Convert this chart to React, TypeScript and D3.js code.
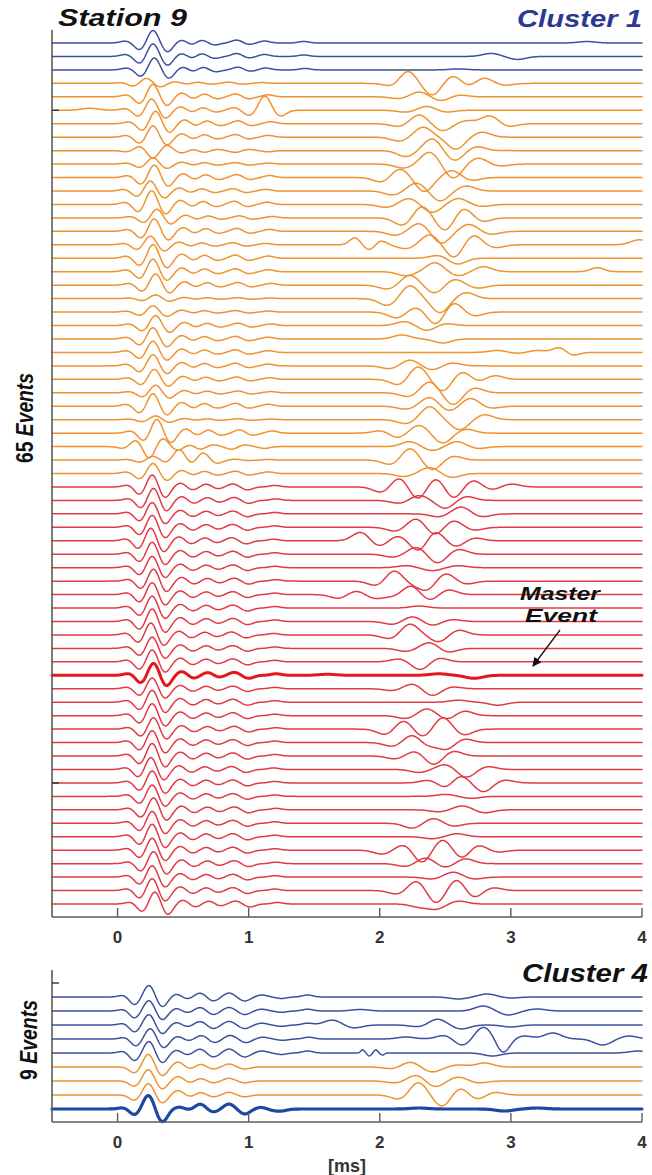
import React from "react";
import * as d3 from "d3";

// [time (ms), amplitude (px), optional width (ms)] turning points
type Pt = number[];

const xTicks = [0, 1, 2, 3, 4];
const topYTicks = [5, 55];
const bottomYTicks = [-1];

const topGroupNames = ["blue", "orange", "red"];
const topGroupSizes = [3, 30, 32];
const topMasterIndex = 47;

const bottomGroups = ["blue", "blue", "blue", "blue", "blue", "orange", "orange", "orange", "blueBold"];

// direct arrival + coda shapes
const pulseBlue: Pt[] = [[0.06, 2], [0.17, -7], [0.27, 13], [0.38, -9], [0.49, 3], [0.57, -2], [0.64, 3], [0.74, -2], [0.91, 3], [1.0, -1.5], [1.12, 2], [1.42, 1.5]];
const pulseOrange: Pt[] = [[0.07, 2], [0.17, -7], [0.27, 13], [0.375, -9], [0.49, 4], [0.58, -2], [0.66, 3], [0.76, -2], [0.9, 3], [1.0, -2], [1.15, 2]];
const pulseRed: Pt[] = [[0.08, 2], [0.17, -8], [0.265, 13], [0.36, -11], [0.48, 4], [0.57, -3], [0.68, 3], [0.76, -2], [0.88, 3], [0.99, -3], [1.2, 1.5]];
const pulseBlue4: Pt[] = [[0.05, 2], [0.13, -8], [0.24, 12], [0.34, -10], [0.45, 3], [0.53, -2], [0.63, 4], [0.73, -4], [0.85, 4], [0.97, -4], [1.1, 2], [1.25, -1.5], [1.45, 2]];
const pulseOrange4: Pt[] = [[0.13, -6], [0.235, 13], [0.34, -9], [0.46, 5], [0.56, -2], [0.63, 3], [0.73, -2], [0.85, 3], [0.97, -2]];
const pulseBold4: Pt[] = [[0.05, 1.5], [0.13, -6], [0.235, 14], [0.34, -13], [0.47, 2], [0.55, -1], [0.63, 5], [0.73, -3], [0.85, 5], [0.97, -5], [1.1, 2], [1.25, -1]];

const topPulseShift = [
  0, 0, 0.01,
  -0.05, 0, -0.01, 0.02, 0, 0, 0, 0.01, -0.02, -0.01, 0.03, 0.01, -0.02, 0, 0,
  0.02, 0.02, 0, 0.02, 0, 0, 0, 0.01, 0.02, 0, 0.02, 0.03, -0.03, 0, 0,
  0, 0.01, 0, 0, -0.01, 0, 0, 0.01, 0, 0, 0, -0.01, 0, 0, 0.01, 0,
  0, 0, 0.01, 0, 0, -0.01, 0, 0, 0.01, 0, 0, 0, 0.01, 0, 0, 0.02,
];
const topPulseGain = [
  1, 1, 0.95,
  0.4, 1, 0.9, 1, 0.9, -0.6, 0.5, 1, 0.8, 1.1, 0.7, 1, 0.7, 1.1, 1,
  0.9, 0.3, 0.5, 0.8, 0.9, 0.9, 0.9, 0.8, 0.6, 1, 0.3, 1.1, -0.9, 0.3, 0.8,
  1, 1, 0.95, 1, 1.05, 1, 0.95, 1, 1, 1, 1.05, 1, 0.95, 1, 1, 0.9,
  1, 1, 0.95, 1, 1.05, 1, 1, 0.95, 1, 1, 1.05, 1, 1, 0.95, 1, 1,
];
const topLate: Pt[][] = [
  [[3.58, 1.5]],
  [[2.85, 3], [3.05, -3]],
  [[2.6, 1]],
  [[2.11, -4], [2.21, 13], [2.4, -12], [2.56, 8], [2.68, -4], [2.79, 6], [2.95, -2]],
  [[2.15, -2], [2.3, 5], [2.47, -4], [2.6, 2]],
  [[-0.21, 2], [1.02, -4, 0.045], [1.12, 13, 0.045], [1.24, -6, 0.045], [2.2, -2], [2.36, 4], [2.5, -2]],
  [[2.15, -3], [2.3, 9], [2.48, -7], [2.66, 3], [2.84, 8], [2.98, -3]],
  [[2.15, -4], [2.33, 10], [2.58, -12], [2.78, 5]],
  [[2.2, -6], [2.4, 12], [2.57, -10], [2.74, 4]],
  [[2.18, -4], [2.38, 12], [2.56, -14], [2.75, 6], [2.92, -2]],
  [[2.02, -5], [2.15, 9], [2.34, -14], [2.55, 7], [2.7, -3]],
  [[2.1, -4], [2.28, 8], [2.46, -10], [2.66, 5]],
  [[2.05, -3], [2.22, 6], [2.4, -8], [2.6, 6], [2.78, -2]],
  [[2.18, -8], [2.32, 12], [2.5, -13], [2.64, 10], [2.78, -4]],
  [[2.12, -4], [2.3, 8], [2.47, -12], [2.68, 7], [2.85, -3]],
  [[1.81, 7, 0.04], [1.92, -5, 0.04], [2.01, 4, 0.04], [2.2, -4], [2.38, 10], [2.57, -13], [2.71, 10], [2.88, -3], [3.98, 5]],
  [[2.45, 3], [2.59, -6]],
  [[2.2, -4], [2.42, 9], [2.6, -4], [2.79, 5], [3.66, 4, 0.05]],
  [[2.06, -4], [2.23, 10], [2.42, -8], [2.57, 6], [2.75, -3]],
  [[2.06, -7], [2.23, 13], [2.46, -14], [2.66, 6]],
  [[2.13, -6], [2.28, 5], [2.43, -13], [2.56, 10], [2.72, -4]],
  [[2.19, 4], [2.36, -5], [2.5, 2]],
  [[2.17, 4], [2.48, -4]],
  [[2.9, 2], [3.05, -1], [3.2, 2], [3.37, 5, 0.05], [3.47, -3, 0.05]],
  [[2.08, -3], [2.23, 6], [2.4, -4], [2.55, 3]],
  [[2.15, -6], [2.29, 13], [2.48, -12], [2.63, 8], [2.75, -3], [2.87, 4]],
  [[2.22, -4], [2.38, 11], [2.56, -12], [2.72, 5]],
  [[2.2, -3], [2.38, 9], [2.53, -5], [2.69, 8], [2.85, -2]],
  [[2.2, -4], [2.38, 13], [2.61, -10], [2.8, 5]],
  [[2.02, 3], [2.13, -5], [2.3, 8], [2.48, -10], [2.66, 4]],
  [[2.23, 5], [2.4, -4], [2.59, 5], [2.75, -2]],
  [[0.47, 10, 0.045], [0.56, -4, 0.045], [0.65, 7, 0.045], [0.75, -3, 0.045], [2.09, -5], [2.23, 12], [2.4, -10], [2.56, 4]],
  [[2.18, -3], [2.38, 6], [2.55, -4]],
  [[2.02, -6], [2.15, 10], [2.29, -13], [2.43, 10], [2.56, -12], [2.71, 7], [2.85, -3], [3.0, 3]],
  [[2.15, -3], [2.3, 5], [2.5, -8], [2.66, 4]],
  [[2.45, -3], [2.62, 7], [2.78, -3]],
  [[2.12, -4], [2.28, 9], [2.42, -8], [2.56, 7], [2.72, -3]],
  [[1.86, 9], [1.99, -6], [2.14, 5], [2.3, -11], [2.42, 10], [2.58, -6], [2.72, 3]],
  [[2.1, -3], [2.28, 7], [2.44, -9], [2.6, 5]],
  [[2.2, 2], [2.4, -3], [2.6, 2]],
  [[1.98, -5], [2.11, 11], [2.24, -3], [2.36, -9], [2.5, 8], [2.66, -3]],
  [[1.69, -4], [1.82, 4], [1.96, -4], [2.1, -2], [2.24, 9], [2.38, -6], [2.52, 5]],
  [[2.3, 2]],
  [[2.1, -3], [2.25, 5], [2.4, -4], [2.55, 2]],
  [[2.08, -4], [2.23, 11], [2.45, -7], [2.6, 5]],
  [[2.2, -3], [2.38, 6], [2.52, -4]],
  [[2.15, 3], [2.31, -8], [2.45, 4]],
  [[1.6, 1], [2.45, 1.5], [2.72, -3]],
  [[2.1, -2], [2.25, 5], [2.4, -7], [2.55, 2]],
  [[2.6, 2], [2.9, -3]],
  [[2.2, -3], [2.36, 7], [2.52, -4], [2.64, 5]],
  [[2.05, -6], [2.18, 9], [2.33, -8], [2.48, 12], [2.64, -6]],
  [[2.1, -4], [2.25, 8], [2.36, -4], [2.51, -7], [2.64, 4]],
  [[2.12, -3], [2.27, 5], [2.41, -9], [2.56, 5]],
  [[2.3, -3], [2.5, 5], [2.66, -8], [2.82, 3]],
  [[2.38, 3], [2.51, -6], [2.61, 8], [2.79, -9], [2.95, 3]],
  [[2.5, 2], [2.7, -2]],
  [[2.45, -2], [2.63, 4], [2.8, -3]],
  [[2.25, -5], [2.41, 5], [2.56, -3]],
  [[2.4, -2], [2.59, 3]],
  [[2.02, -4], [2.19, 6], [2.32, -13], [2.48, 11], [2.63, -9], [2.74, 6], [2.9, -2]],
  [[2.2, -3], [2.35, 6], [2.5, -4], [2.65, 5]],
  [[2.4, -2], [2.56, 5], [2.72, -2]],
  [[2.14, -4], [2.28, 10], [2.43, -13], [2.59, 12], [2.71, -8], [2.86, 3]],
  [[2.3, -3], [2.43, -5], [2.6, 3]],
];

const bottomPulseShift = [0, 0, 0, 0.01, 0, 0, 0, 0, 0];
const bottomPulseGain = [1, 0.9, 0.9, 0.9, 1, 1, 0.9, 0.9, 1];
const bottomLate: Pt[][] = [
  [[2.6, -2], [2.82, 3], [3.0, -1]],
  [[1.85, 1.5], [2.79, 5], [2.98, -4], [3.2, 2]],
  [[1.64, 5], [1.8, -3], [2.3, -2], [2.44, 6], [2.62, -4], [3.0, -2]],
  [[2.2, 2], [2.5, 4], [2.63, -7], [2.79, 12], [2.94, -14, 0.05], [3.1, 3], [3.32, 6], [3.7, -6], [3.9, 3]],
  [[1.87, 3, 0.015], [1.92, -3, 0.015], [1.97, 3, 0.015], [2.02, -2, 0.015], [2.86, -3], [3.97, 2]],
  [[2.1, -2], [2.23, 5], [2.4, -5], [2.6, 2], [2.8, 4]],
  [[2.12, -2], [2.28, 6], [2.42, -6], [2.6, 4], [2.75, -2]],
  [[2.16, -5], [2.29, 13], [2.48, -12], [2.61, 8], [2.74, -5], [2.87, 3]],
  [[1.2, -1.5], [2.3, 1], [2.95, -2], [3.2, 1]],
];

const colors: Record<string, string> = {
  blue: "#3d4f9f",
  orange: "#f0922e",
  red: "#e23a42",
  master: "#e5161c",
  blueBold: "#1c49a5",
};
const pulseFor: Record<string, Pt[]> = { blue: pulseBlue, orange: pulseOrange, red: pulseRed };
const pulseFor4: Record<string, Pt[]> = { blue: pulseBlue4, orange: pulseOrange4, blueBold: pulseBold4 };

const W = 652;
const H = 1175;
const font = "'Liberation Sans', Arial, sans-serif";

const x = d3.scaleLinear().domain([-0.5, 4]).range([52, 642]);
const yTop = d3.scaleLinear().domain([0, 64]).range([43, 904]);
const yBot = d3.scaleLinear().domain([0, 8]).range([997, 1109]);
const amp = d3.scaleLinear().domain([0, 1]).range([0, -1]);

const samples = d3.range(-0.5, 4.0001, 0.004);

function wave(shape: Pt[], shift: number, gain: number, late: Pt[]): [number, number][] {
  return samples.map((t) => {
    let v = 0;
    for (const [t0, a, w] of shape) {
      const d = (t - t0 - shift) / (w ?? 0.04);
      if (Math.abs(d) < 6) v += gain * a * Math.exp(-0.5 * d * d);
    }
    for (const [t0, a, w] of late) {
      const d = (t - t0) / (w ?? 0.065);
      if (Math.abs(d) < 6) v += a * Math.exp(-0.5 * d * d);
    }
    return [t, v];
  });
}

const topGroups: string[] = topGroupNames.flatMap((g, i) => d3.range(topGroupSizes[i]).map(() => g));

export default function App() {
  const topTraces = topGroups.map((g, i) => {
    const base = yTop(i);
    const line = d3
      .line<[number, number]>()
      .x((d) => x(d[0]))
      .y((d) => base + amp(d[1]));
    const isMaster = i === topMasterIndex;
    return {
      i,
      d: line(wave(pulseFor[g], topPulseShift[i], topPulseGain[i], topLate[i])) ?? "",
      color: isMaster ? colors.master : colors[g],
      width: isMaster ? 3 : 1.5,
      isMaster,
    };
  });
  const ordered = [...topTraces.filter((t) => !t.isMaster), ...topTraces.filter((t) => t.isMaster)];

  const botTraces = bottomGroups.map((g, i) => {
    const base = yBot(i);
    const line = d3
      .line<[number, number]>()
      .x((d) => x(d[0]))
      .y((d) => base + amp(d[1]));
    return {
      i,
      d: line(wave(pulseFor4[g], bottomPulseShift[i], bottomPulseGain[i], bottomLate[i])) ?? "",
      color: colors[g],
      width: g === "blueBold" ? 3.2 : 1.5,
    };
  });

  const axisColor = "#5a5a5a";

  const xAxis = (y0: number, yTopLine: number, yTicks: number[], yScale: d3.ScaleLinear<number, number>) => (
    <g>
      <line x1={x(-0.5)} x2={x(-0.5)} y1={yTopLine} y2={y0} stroke={axisColor} strokeWidth={1.6} />
      <line x1={x(-0.5)} x2={x(4)} y1={y0} y2={y0} stroke={axisColor} strokeWidth={1.6} />
      {xTicks.map((t) => (
        <g key={t}>
          <line x1={x(t)} x2={x(t)} y1={y0} y2={y0 - 9} stroke={axisColor} strokeWidth={1.4} />
          <text x={x(t)} y={y0 + 26} textAnchor="middle" fontFamily={font} fontWeight="bold" fontSize={17} fill="#333">
            {t}
          </text>
        </g>
      ))}
      {yTicks.map((t) => (
        <line key={t} x1={x(-0.5)} x2={x(-0.5) + 7} y1={yScale(t)} y2={yScale(t)} stroke="#333" strokeWidth={1.4} />
      ))}
    </g>
  );

  return (
    <svg width={W} height={H} style={{ position: "absolute", left: 0, top: 0, background: "#fff" }}>
      <defs>
        <marker id="arrowHead" viewBox="0 0 10 10" refX="9" refY="5" markerWidth="7" markerHeight="7" orient="auto">
          <path d="M0,0 L10,5 L0,10 z" fill="#111" />
        </marker>
      </defs>
      <rect width={W} height={H} fill="#fff" />

      {/* top panel */}
      <g fill="none" strokeLinejoin="round" strokeLinecap="round">
        {ordered.map((t) => (
          <path key={t.i} d={t.d} stroke={t.color} strokeWidth={t.width} fill="none" />
        ))}
      </g>
      {xAxis(917, 30, topYTicks, yTop)}
      <text x={58} y={26} fontFamily={font} fontWeight="bold" fontStyle="italic" fontSize={24} fill="#111" textLength={129} lengthAdjust="spacingAndGlyphs">
        Station 9
      </text>
      <text x={517} y={27} fontFamily={font} fontWeight="bold" fontStyle="italic" fontSize={24} fill="#2b3990" textLength={125} lengthAdjust="spacingAndGlyphs">
        Cluster 1
      </text>
      <text transform="translate(33,418) rotate(-90)" textAnchor="middle" fontFamily={font} fontWeight="bold" fontSize={23} fill="#111" textLength={90} lengthAdjust="spacingAndGlyphs">
        65 <tspan fontStyle="italic">Events</tspan>
      </text>
      <text x={520} y={600} fontFamily={font} fontWeight="bold" fontStyle="italic" fontSize={18} fill="#111" textLength={80} lengthAdjust="spacingAndGlyphs">
        Master
      </text>
      <text x={525} y={622} fontFamily={font} fontWeight="bold" fontStyle="italic" fontSize={18} fill="#111" textLength={72} lengthAdjust="spacingAndGlyphs">
        Event
      </text>
      <line x1={560} y1={630} x2={533} y2={666} stroke="#111" strokeWidth={1.3} markerEnd="url(#arrowHead)" />

      {/* bottom panel */}
      <g fill="none" strokeLinejoin="round" strokeLinecap="round">
        {botTraces.map((t) => (
          <path key={t.i} d={t.d} stroke={t.color} strokeWidth={t.width} fill="none" />
        ))}
      </g>
      {xAxis(1122, 970, bottomYTicks, yBot)}
      <text x={522} y={982} fontFamily={font} fontWeight="bold" fontStyle="italic" fontSize={25} fill="#111" textLength={126} lengthAdjust="spacingAndGlyphs">
        Cluster 4
      </text>
      <text transform="translate(37,1040) rotate(-90)" textAnchor="middle" fontFamily={font} fontWeight="bold" fontSize={23} fill="#111" textLength={80} lengthAdjust="spacingAndGlyphs">
        9 <tspan fontStyle="italic">Events</tspan>
      </text>
      <text x={x(1.75)} y={1172} textAnchor="middle" fontFamily={font} fontWeight="bold" fontSize={18} fill="#333">
        [ms]
      </text>
    </svg>
  );
}
